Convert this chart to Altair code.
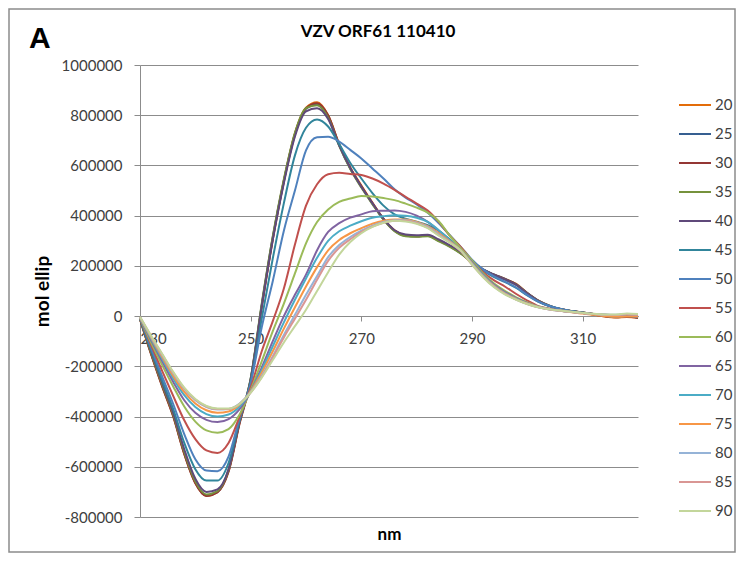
import altair as alt
import pandas as pd

# wavelength grid (nm)
nm = list(range(230, 321, 2))

# mol ellip values (in thousands), one list per temperature
s20 = [-12,-150,-278,-398,-548,-665,-716,-700,-618,-425,-255,40,310,540,728,830,852,800,685,592,520,452,388,342,322,318,322,302,280,252,215,185,165,148,128,92,62,42,28,20,14,6,-2,-6,-4,-8]
s25 = [-10,-148,-275,-395,-545,-662,-714,-700,-615,-420,-250,45,315,540,725,826,843,795,680,588,515,448,385,340,320,318,320,300,278,250,215,186,166,148,127,92,62,42,28,20,14,7,0,-4,-2,-6]
s30 = [-12,-152,-280,-400,-550,-666,-716,-702,-620,-428,-258,35,305,535,722,828,848,800,684,590,518,450,387,341,321,318,321,301,279,251,214,184,164,147,126,91,61,41,28,20,13,6,-1,-5,-3,-7]
s35 = [-10,-146,-272,-392,-540,-658,-710,-697,-612,-418,-248,50,318,545,730,828,840,790,678,586,512,446,384,338,318,316,318,298,276,249,213,184,163,145,124,90,60,40,27,20,14,8,2,-2,0,-4]
s40 = [-10,-140,-265,-385,-530,-648,-700,-690,-610,-420,-252,40,305,530,715,815,828,785,680,590,515,450,388,342,325,322,324,305,282,255,218,186,164,145,124,90,60,40,27,20,14,8,2,-2,0,-4]
s45 = [-10,-135,-255,-370,-505,-610,-655,-655,-585,-415,-262,-10,230,450,640,750,783,755,685,610,548,490,440,405,388,376,362,340,305,262,218,182,155,135,112,82,57,40,28,20,13,7,2,-2,1,-3]
s50 = [-8,-125,-240,-350,-470,-570,-615,-618,-560,-405,-268,-45,140,340,500,660,712,714,695,662,628,588,548,505,472,445,412,370,322,275,225,186,158,137,114,84,58,40,28,20,13,7,2,-2,1,-4]
s55 = [-8,-115,-218,-318,-415,-490,-535,-545,-505,-400,-285,-140,-20,110,285,440,525,565,571,566,562,548,528,503,475,448,420,375,320,275,220,175,142,117,88,62,40,29,21,16,12,8,4,1,3,0]
s60 = [-8,-105,-195,-280,-360,-420,-455,-464,-450,-392,-295,-180,-60,50,170,290,375,425,455,468,478,476,470,462,448,432,412,378,320,270,222,170,130,100,75,55,38,28,22,17,12,8,5,3,5,4]
s65 = [-6,-95,-180,-262,-335,-385,-413,-422,-410,-370,-300,-205,-100,0,85,165,262,335,370,392,405,418,420,421,415,400,375,340,300,262,215,165,125,95,72,52,37,28,22,17,12,8,5,4,6,5]
s70 = [-5,-90,-170,-248,-315,-362,-390,-400,-392,-360,-300,-215,-120,-25,65,150,232,300,338,360,378,392,398,402,400,392,375,342,302,262,212,163,122,92,70,50,36,27,21,16,12,8,5,4,7,6]
s75 = [-5,-85,-162,-238,-302,-348,-375,-385,-380,-352,-300,-225,-140,-50,35,118,195,262,303,330,350,368,380,385,385,375,358,330,298,262,210,160,120,90,68,50,36,27,21,15,10,5,0,-3,-2,-2]
s80 = [-4,-82,-155,-228,-290,-335,-362,-372,-370,-348,-302,-238,-160,-75,5,85,160,235,283,315,340,360,375,382,382,372,355,325,295,260,208,158,118,88,66,48,35,26,21,16,12,8,5,5,8,6]
s85 = [-4,-80,-152,-225,-288,-332,-360,-370,-370,-350,-305,-242,-165,-85,-10,65,145,220,272,306,335,357,372,380,380,370,352,322,293,258,205,157,117,88,66,48,35,26,21,16,12,8,5,4,7,5]
s90 = [-3,-78,-150,-222,-285,-330,-358,-368,-368,-350,-305,-245,-175,-105,-40,25,100,175,245,295,330,355,372,380,377,368,350,320,292,260,205,155,115,86,65,48,35,27,22,17,13,9,6,6,10,8]

series_names = ["20", "25", "30", "35", "40", "45", "50", "55", "60", "65", "70", "75", "80", "85", "90"]
series_vals = [s20, s25, s30, s35, s40, s45, s50, s55, s60, s65, s70, s75, s80, s85, s90]
colors = ["#E36C09", "#365F91", "#943634", "#76923C", "#5F497A", "#31859B",
          "#4F81BD", "#C0504D", "#9BBB59", "#8064A2", "#4BACC6", "#F79646",
          "#95B3D7", "#D99694", "#C3D69B"]

x_ticks = [230, 250, 270, 290, 310]
y_ticks = [-800000, -600000, -400000, -200000, 0, 200000, 400000, 600000, 800000, 1000000]

rows = []
for name, vals in zip(series_names, series_vals):
    for w, v in zip(nm, vals):
        rows.append({"nm": w, "val": v * 1000, "T": name})
df = pd.DataFrame(rows)

FONT = "Lato"
W, H = 498, 452

lines = alt.Chart(df).mark_line(strokeWidth=2, interpolate="monotone").encode(
    x=alt.X("nm:Q", scale=alt.Scale(domain=[230, 320], nice=False, zero=False),
            axis=alt.Axis(values=x_ticks, offset=-201, grid=False, domainColor="#8c8c8c",
                          tickColor="#8c8c8c", tickSize=5, labelFont=FONT, labelFontSize=15,
                          labelColor="#404040", labelPadding=10, title="nm",
                          titleFont=FONT, titleFontSize=17, titleFontWeight="bold",
                          titleColor="#000000", titleY=218, titleBaseline="middle")),
    y=alt.Y("val:Q", scale=alt.Scale(domain=[-800000, 1000000], nice=False),
            axis=alt.Axis(values=y_ticks, grid=True, gridColor="#8c8c8c", domainColor="#8c8c8c",
                          tickColor="#8c8c8c", tickSize=6, labelFont=FONT, labelFontSize=15,
                          labelColor="#404040", labelPadding=12, labelExpr="datum.value + ''",
                          title="mol ellip", titleFont=FONT, titleFontSize=19,
                          titleFontWeight="bold", titleColor="#000000", titleX=-88, titleY=226,
                          titleAnchor="middle")),
    color=alt.Color("T:N", sort=series_names,
                    scale=alt.Scale(domain=series_names, range=colors),
                    legend=alt.Legend(title=None, orient="none", legendX=538, legendY=23,
                                      symbolType="stroke", symbolSize=1024, symbolStrokeWidth=2,
                                      labelFont=FONT, labelFontSize=15, labelColor="#404040",
                                      rowPadding=4, labelOffset=3, padding=0)),
)

frame = alt.Chart(pd.DataFrame({"k": [0]})).mark_rect(
    fill=None, stroke="#8c8c8c", strokeWidth=1.5
).encode(x=alt.value(-131), x2=alt.value(W + 97), y=alt.value(-56), y2=alt.value(H + 35))

letter = alt.Chart(pd.DataFrame({"t": ["A"]})).mark_text(
    font="Liberation Sans", fontSize=30, fontWeight="bold", align="left", baseline="middle",
    color="#000000"
).encode(text="t:N", x=alt.value(-111), y=alt.value(-26))

title = alt.Chart(pd.DataFrame({"t": ["VZV ORF61 110410"]})).mark_text(
    font=FONT, fontSize=17, fontWeight="bold", align="center", baseline="middle",
    color="#000000"
).encode(text="t:N", x=alt.value(238), y=alt.value(-33))

chart = alt.layer(frame, lines, letter, title).properties(
    width=W, height=H,
    autosize=alt.AutoSizeParams(type="none"),
    padding={"left": 132, "top": 57, "right": 98, "bottom": 36},
).configure_view(stroke=None)

chart.save("out.html", embed_options={"renderer": "svg", "actions": False})
